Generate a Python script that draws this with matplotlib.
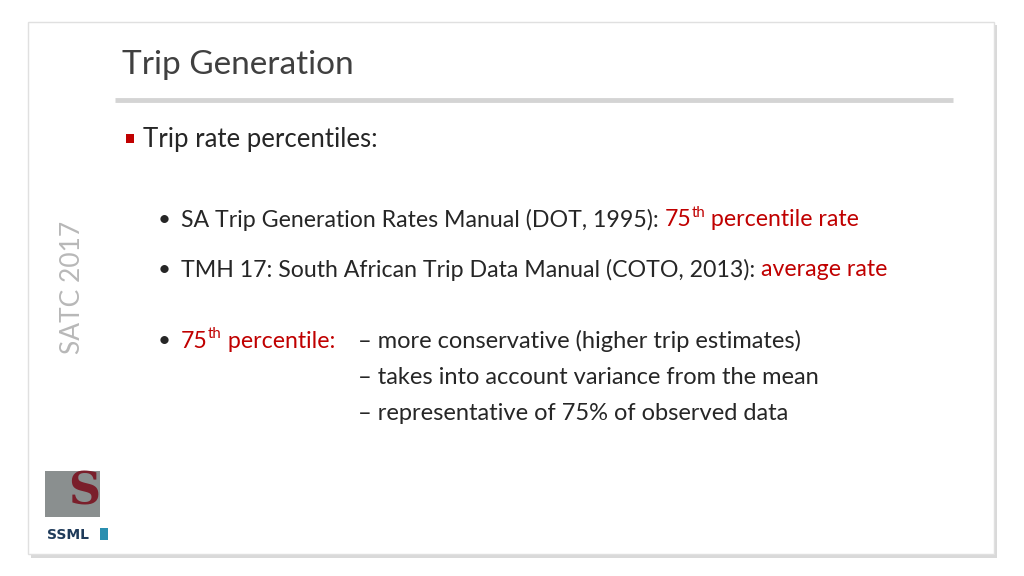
import matplotlib
matplotlib.use("Agg")
import matplotlib.pyplot as plt
from matplotlib.patches import Rectangle
from matplotlib import font_manager

title = "Trip Generation"
heading = "Trip rate percentiles:"
bullet1 = [("SA Trip Generation Rates Manual (DOT, 1995): ", "k", False), ("75", "r", False), ("th", "r", True), (" percentile rate", "r", False)]
bullet2 = [("TMH 17: South African Trip Data Manual (COTO, 2013): ", "k", False), ("average rate", "r", False)]
bullet3 = [("75", "r", False), ("th", "r", True), (" percentile:", "r", False)]
dash_lines = ["– more conservative (higher trip estimates)",
              "– takes into account variance from the mean",
              "– representative of 75% of observed data"]
side_label = "SATC 2017"

names = {f.name for f in font_manager.fontManager.ttflist}
FONT = "Liberation Sans Narrow" if "Liberation Sans Narrow" in names else "Lato"
plt.rcParams["font.family"] = FONT
TXT = "#262626"; RED = "#C00000"
col = {"k": TXT, "r": RED}

fig = plt.figure(figsize=(10.24, 5.76), dpi=100)
ax = fig.add_axes([0, 0, 1, 1])
ax.set_xlim(0, 1024); ax.set_ylim(576, 0); ax.axis("off")
fig.patch.set_facecolor("white")
ax.add_patch(Rectangle((31, 25), 966, 533, fc="#d9d9d9", ec="none"))
ax.add_patch(Rectangle((28, 22), 966, 532, fc="white", ec="#e0e0e0", lw=1))
ax.text(122, 65, title, fontsize=24, color="#404040", va="center", ha="left")
ax.plot([115, 953], [100, 100], color="#d4d4d4", lw=3.5, solid_capstyle="butt")
ax.add_patch(Rectangle((126, 134), 8, 9, fc=RED, ec="none"))
ax.text(143, 140, heading, fontsize=18.5, color=TXT, va="center")

fig.canvas.draw()
r = fig.canvas.get_renderer()
inv = ax.transData.inverted()

def runs(x, y, parts, size=16.7):
    for s, c, sup in parts:
        t = ax.text(x, y - (7 if sup else 0), s, fontsize=size * (0.65 if sup else 1),
                    color=col[c], va="center", ha="left")
        bb = t.get_window_extent(renderer=r)
        x = inv.transform((bb.x1, 0))[0]
    return x

for y in (220, 270, 341):
    ax.text(158, y, "•", fontsize=16, color=TXT, va="center")
runs(181, 220, bullet1)
runs(181, 270, bullet2)
runs(181, 341, bullet3)
for y, s in zip((341, 378, 413), dash_lines):
    ax.text(358, y, s, fontsize=17, color=TXT, va="center")

ax.text(72, 287, side_label, fontsize=19, color="#b8b8b8", rotation=90, va="center", ha="center")
ax.add_patch(Rectangle((45, 471), 55, 46, fc="#8a8f8f", ec="none"))
ax.text(84, 492, "S", fontsize=32, color="#7a1f2b", fontweight="bold", va="center", ha="center", family="DejaVu Serif")
ax.text(47, 535, "SSML", fontsize=10, color="#1f3b5a", fontweight="bold", va="center", ha="left", family="DejaVu Sans")
ax.add_patch(Rectangle((100, 528), 8, 12, fc="#2a8fb0", ec="none"))
fig.savefig("out.png", dpi=100)
